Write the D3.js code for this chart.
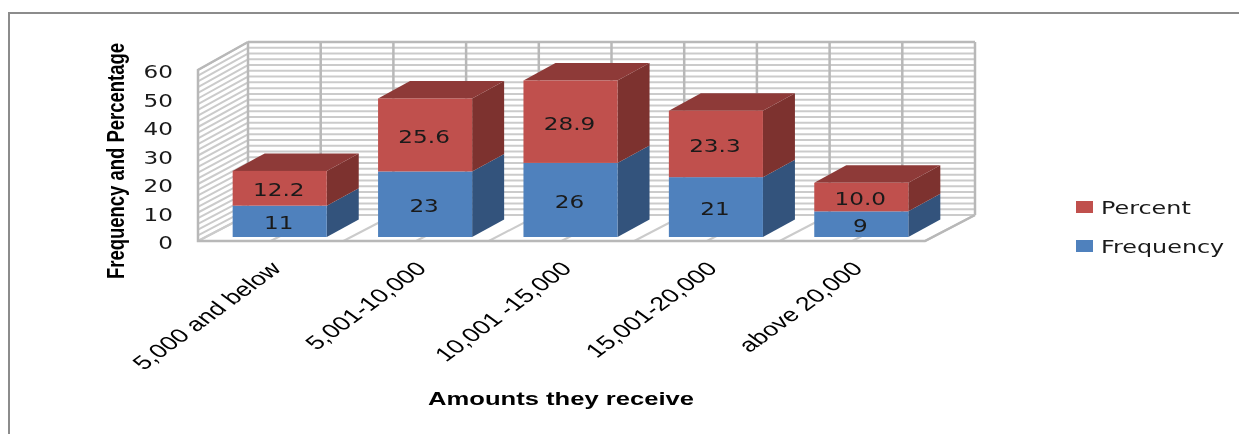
<!DOCTYPE html>
<html>
<head>
    <title>Amounts they receive</title>
    <script src="https://d3js.org/d3.v7.min.js"></script>
    <style>
        body { margin: 0; background: #fff; overflow: hidden; }
        svg { filter: blur(0.45px); }
        text { fill: #1a1a1a; }
        .num { font-family: 'DejaVu Sans', sans-serif; font-size: 18.5px; }
        .cat { font-family: 'Liberation Sans', sans-serif; font-size: 19.5px; fill: #000; }
        .grid { stroke: #cbcbcb; stroke-width: 2px; fill: none; }
        .edge { stroke: #b8b8b8; stroke-width: 2.5px; fill: none; }
    </style>
</head>
<body>
<svg width="1239" height="434"></svg>
<script>
// DATA ========================================================
const categories = ["5,000 and below", "5,001-10,000", "10,001 -15,000", "15,001-20,000", "above 20,000"];
const frequency = [11, 23, 26, 21, 9];
const percent = [12.2, 25.6, 28.9, 23.3, 10.0];
const yTicks = [0, 10, 20, 30, 40, 50, 60];
const gridValues = d3.range(0, 61, 2);
const seriesNames = ["Percent", "Frequency"];

// SETUP =======================================================
const svg = d3.select("svg");
const stretch = 1.25; // the picture is wider than it was drawn
const catStretch = 1.37;

const colors = {
    Frequency: { front: "#4f81bd", side: "#33537c" },
    Percent: { front: "#c0504d", side: "#7d322f", top: "#8e3a38" }
};

const x = d3.scaleBand().domain(categories).range([198, 925]);
const barX = d3.scaleBand().domain(categories).range([207, 934]).paddingInner(0.353).paddingOuter(0.1765);
const yFront = d3.scaleLinear().domain([0, 60]).range([241, 70]);
const yBack = d3.scaleLinear().domain([0, 60]).range([215, 42]);
const yBar = d3.scaleLinear().domain([0, 60]).range([237, 66]);
const wallDx = 50, barDx = 32, barDy = 17.5;

// frame
svg.append("path")
    .attr("d", "M9,434V13H1239")
    .attr("fill", "none")
    .attr("stroke", "#8c8c8c")
    .attr("stroke-width", 2);

// WALLS =======================================================
const walls = svg.append("g");
const back0 = 198 + wallDx, back1 = 925 + wallDx;

walls.selectAll(".h").data(gridValues).join("line")
    .attr("class", "grid")
    .attr("x1", back0).attr("x2", back1)
    .attr("y1", d => yBack(d)).attr("y2", d => yBack(d));

walls.selectAll(".s").data(gridValues).join("line")
    .attr("class", "grid")
    .attr("x1", 198).attr("x2", back0)
    .attr("y1", d => yFront(d)).attr("y2", d => yBack(d));

// two divisions per category
const dividers = d3.range(categories.length * 2 + 1).map(i => 198 + i * x.step() / 2);

walls.selectAll(".v").data(dividers).join("line")
    .attr("class", "edge")
    .attr("x1", d => d + wallDx).attr("x2", d => d + wallDx)
    .attr("y1", yBack(0)).attr("y2", yBack(60));

walls.selectAll(".f").data(dividers).join("line")
    .attr("class", "grid")
    .attr("x1", d => d).attr("x2", d => d + wallDx)
    .attr("y1", yFront(0)).attr("y2", yBack(0));

walls.append("path").attr("class", "edge")
    .attr("d", `M${back0},${yBack(60)}H${back1}`);
walls.append("path").attr("class", "edge")
    .attr("d", `M${back0},${yBack(60)}L198,${yFront(60)}V${yFront(0)}H925L${back1},${yBack(0)}`);

// BARS ========================================================
const rows = categories.map((c, i) => ({ c, f: frequency[i], p: percent[i] }));
const bars = svg.selectAll(".bar").data(rows).join("g").attr("class", "bar");
const w = barX.bandwidth();

function sidePoints(x0, yA, yB) {
    return [[x0, yA], [x0 + barDx, yA - barDy], [x0 + barDx, yB - barDy], [x0, yB]].join(" ");
}

bars.append("polygon")
    .attr("points", d => sidePoints(barX(d.c) + w, yBar(0), yBar(d.f)))
    .attr("fill", colors.Frequency.side);
bars.append("polygon")
    .attr("points", d => sidePoints(barX(d.c) + w, yBar(d.f), yBar(d.f + d.p)))
    .attr("fill", colors.Percent.side);
bars.append("polygon")
    .attr("points", d => {
        const x0 = barX(d.c), y0 = yBar(d.f + d.p);
        return [[x0, y0], [x0 + barDx, y0 - barDy], [x0 + w + barDx, y0 - barDy], [x0 + w, y0]].join(" ");
    })
    .attr("fill", colors.Percent.top);
bars.append("rect")
    .attr("x", d => barX(d.c)).attr("width", w)
    .attr("y", d => yBar(d.f)).attr("height", d => yBar(0) - yBar(d.f))
    .attr("fill", colors.Frequency.front);
bars.append("rect")
    .attr("x", d => barX(d.c)).attr("width", w)
    .attr("y", d => yBar(d.f + d.p)).attr("height", d => yBar(d.f) - yBar(d.f + d.p))
    .attr("fill", colors.Percent.front);

// data labels
function stretchedLabel(g, xf, yf, label) {
    g.append("text")
        .attr("class", "num")
        .attr("text-anchor", "middle")
        .attr("dy", "0.36em")
        .attr("transform", d => `translate(${xf(d) - 1},${yf(d) + 1.5}) scale(${stretch},1)`)
        .text(label);
}
stretchedLabel(bars, d => barX(d.c) + w / 2, d => (yBar(0) + yBar(d.f)) / 2, d => d.f);
stretchedLabel(bars, d => barX(d.c) + w / 2, d => (yBar(d.f) + yBar(d.f + d.p)) / 2, d => d3.format(".1f")(d.p));

// AXES ========================================================
const yAxis = svg.append("g")
    .attr("transform", "translate(173,2)")
    .call(d3.axisLeft(yFront).tickValues(yTicks).tickSize(0).tickPadding(0));
yAxis.select(".domain").remove();
yAxis.selectAll("text")
    .attr("class", "num")
    .attr("x", 0)
    .attr("text-anchor", "end")
    .attr("transform", `scale(${stretch},1)`);

const xAxis = svg.append("g")
    .attr("transform", "translate(0,265)")
    .call(d3.axisBottom(x).tickSize(0).tickPadding(0));
xAxis.select(".domain").remove();
xAxis.selectAll(".tick text")
    .attr("class", "cat")
    .attr("x", 0).attr("y", 0).attr("dy", "0.35em")
    .attr("text-anchor", "end")
    .attr("transform", `translate(5,0) scale(${catStretch},1) rotate(-45)`);

// TITLES ======================================================
svg.append("text")
    .attr("transform", `translate(561,398) scale(${catStretch},1)`)
    .attr("dy", "0.36em")
    .attr("text-anchor", "middle")
    .style("font-family", "'Liberation Sans', sans-serif")
    .style("font-weight", "bold")
    .style("font-size", "18.7px")
    .style("fill", "#000")
    .text("Amounts they receive");

svg.append("text")
    .attr("transform", `translate(116,161) scale(${catStretch},1) rotate(-90)`)
    .attr("dy", "0.36em")
    .attr("text-anchor", "middle")
    .style("font-family", "'Liberation Sans', sans-serif")
    .style("font-weight", "bold")
    .style("font-size", "17px")
    .style("fill", "#000")
    .attr("textLength", 236)
    .attr("lengthAdjust", "spacingAndGlyphs")
    .text("Frequency and Percentage");

// LEGEND ======================================================
const legendY = d3.scalePoint().domain(seriesNames).range([207, 246]);
const legend = svg.selectAll(".legend").data(seriesNames).join("g")
    .attr("class", "legend")
    .attr("transform", d => `translate(1076,${legendY(d)})`);
legend.append("rect")
    .attr("y", -6).attr("width", 17).attr("height", 12)
    .attr("fill", d => colors[d].front);
legend.append("text")
    .attr("class", "num")
    .attr("dy", "0.36em")
    .attr("transform", `translate(25,0) scale(1.29,1)`)
    .text(d => d);
</script>
</body>
</html>
